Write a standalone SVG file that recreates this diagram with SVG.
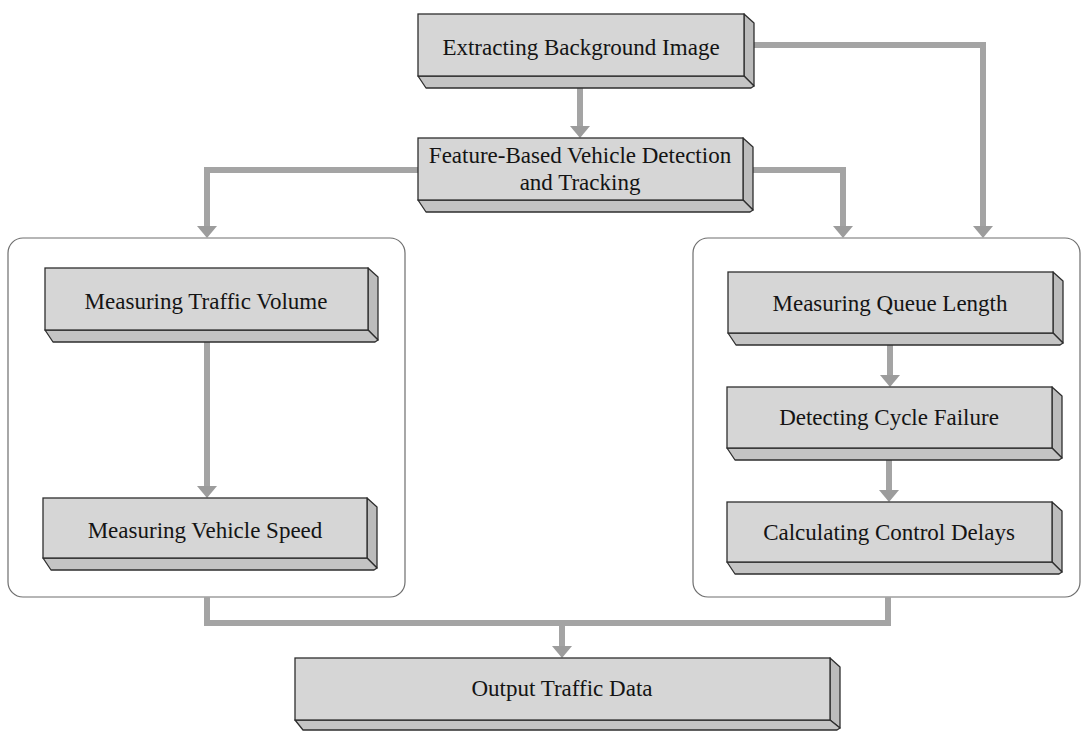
<svg xmlns="http://www.w3.org/2000/svg" width="1082" height="731" viewBox="0 0 1082 731">
<style>
.bg{fill:#ffffff}
.cont{fill:none;stroke:#6e6e6e;stroke-width:1.2}
.front{fill:#d6d6d6;stroke:#2e2e2e;stroke-width:1.3}
.side{fill:#bcbcbc;stroke:#2e2e2e;stroke-width:1.3;stroke-linejoin:round}
.bot{fill:#c4c4c4;stroke:#2e2e2e;stroke-width:1.3;stroke-linejoin:round}
.conn{fill:none;stroke:#a4a4a4;stroke-width:6;stroke-linejoin:miter}
.lbl{font-family:"Liberation Serif","Times New Roman",serif;font-size:23px;fill:#141414;text-anchor:middle}
</style>
<defs>
<marker id="ah" markerUnits="userSpaceOnUse" markerWidth="12" markerHeight="20" viewBox="0 0 12 20" refX="6" refY="10" orient="auto">
<path d="M0,0 L12,10 L0,20 z" fill="#9c9c9c"/>
</marker>
</defs>
<rect class="bg" x="0" y="0" width="1082" height="731"/>
<g id="containers">
<rect id="group-left" class="cont" x="8" y="238" width="397" height="359" rx="15"/>
<rect id="group-right" class="cont" x="693" y="238" width="387" height="359" rx="15"/>
</g>
<g id="connectors">
<path class="conn" d="M580,76 V132" marker-end="url(#ah)"/>
<path class="conn" d="M418,170 H207 V232" marker-end="url(#ah)"/>
<path class="conn" d="M743,170 H843 V232" marker-end="url(#ah)"/>
<path class="conn" d="M744,45 H983 V232" marker-end="url(#ah)"/>
<path class="conn" d="M207,330 V492" marker-end="url(#ah)"/>
<path class="conn" d="M890,333 V381" marker-end="url(#ah)"/>
<path class="conn" d="M889,448 V496" marker-end="url(#ah)"/>
<path class="conn" d="M207,597 V623 H888 V597"/>
<path class="conn" d="M562,623 V652" marker-end="url(#ah)"/>
</g>
<g id="n-extract">
<polygon class="side" points="744,14 754,23 754,86 744,76"/>
<polygon class="bot" points="418,76 744,76 754,86 751,88 426,88"/>
<rect class="front" x="418" y="14" width="326" height="62"/>
<text class="lbl" x="581" y="55">Extracting Background Image</text>
</g>
<g id="n-feature">
<polygon class="side" points="743,138 753,147 753,210 743,200"/>
<polygon class="bot" points="418,200 743,200 753,210 750,212 426,212"/>
<rect class="front" x="418" y="138" width="325" height="62"/>
<text class="lbl" x="580" y="163">Feature-Based Vehicle Detection</text>
<text class="lbl" x="580" y="190">and Tracking</text>
</g>
<g id="n-volume">
<polygon class="side" points="368,268 378,277 378,340 368,330"/>
<polygon class="bot" points="45,330 368,330 378,340 375,342 53,342"/>
<rect class="front" x="45" y="268" width="323" height="62"/>
<text class="lbl" x="206" y="309">Measuring Traffic Volume</text>
</g>
<g id="n-speed">
<polygon class="side" points="367,498 377,507 377,568 367,558"/>
<polygon class="bot" points="43,558 367,558 377,568 374,570 51,570"/>
<rect class="front" x="43" y="498" width="324" height="60"/>
<text class="lbl" x="205" y="538">Measuring Vehicle Speed</text>
</g>
<g id="n-queue">
<polygon class="side" points="1053,272 1063,281 1063,343 1053,333"/>
<polygon class="bot" points="728,333 1053,333 1063,343 1060,345 736,345"/>
<rect class="front" x="728" y="272" width="325" height="61"/>
<text class="lbl" x="890" y="311">Measuring Queue Length</text>
</g>
<g id="n-cycle">
<polygon class="side" points="1052,387 1062,396 1062,458 1052,448"/>
<polygon class="bot" points="727,448 1052,448 1062,458 1059,460 735,460"/>
<rect class="front" x="727" y="387" width="325" height="61"/>
<text class="lbl" x="889" y="425">Detecting Cycle Failure</text>
</g>
<g id="n-delay">
<polygon class="side" points="1052,502 1062,511 1062,572 1052,562"/>
<polygon class="bot" points="727,562 1052,562 1062,572 1059,574 735,574"/>
<rect class="front" x="727" y="502" width="325" height="60"/>
<text class="lbl" x="889" y="540">Calculating Control Delays</text>
</g>
<g id="n-output">
<polygon class="side" points="830,658 840,667 840,728 830,720"/>
<polygon class="bot" points="295,720 830,720 840,728 837,730 303,730"/>
<rect class="front" x="295" y="658" width="535" height="62"/>
<text class="lbl" x="562" y="696">Output Traffic Data</text>
</g>
</svg>
